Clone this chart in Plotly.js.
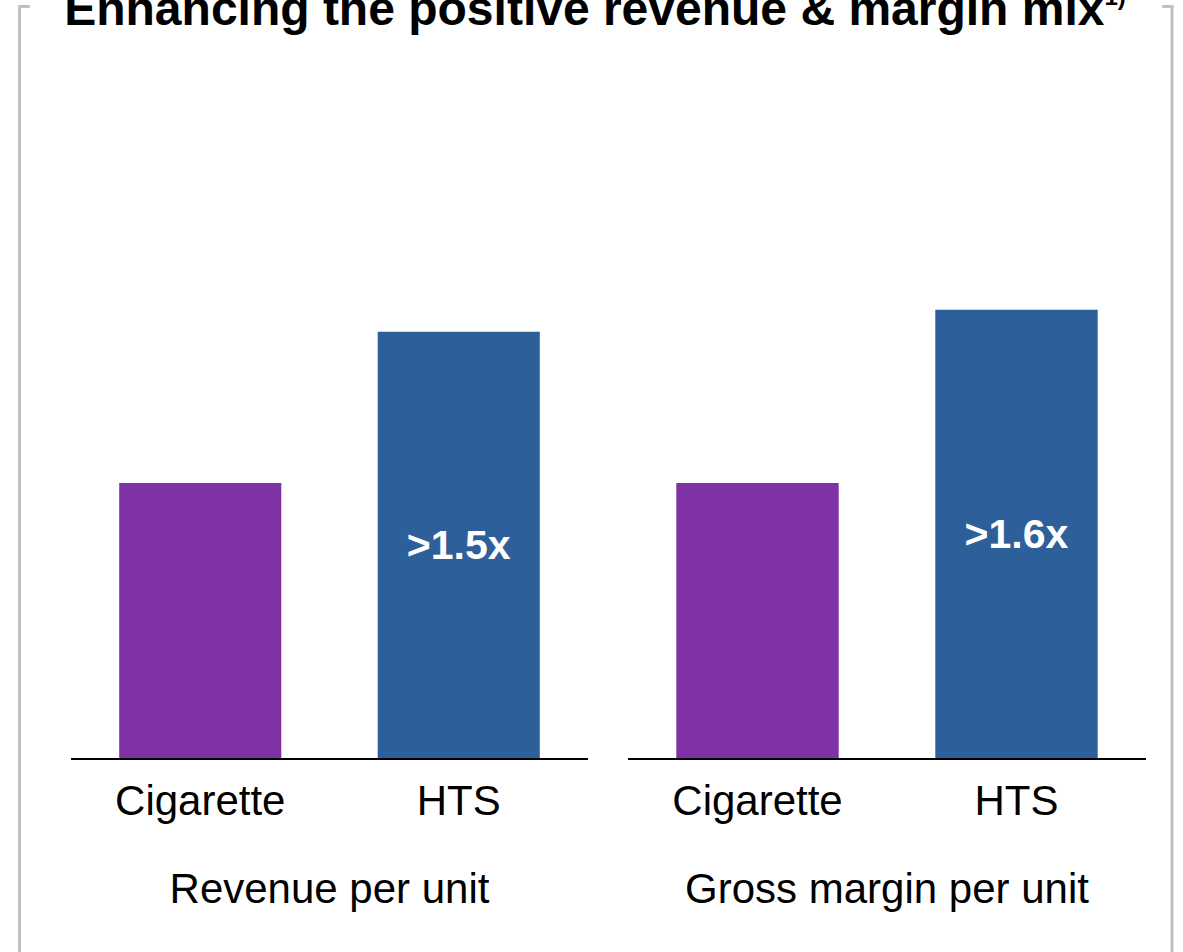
<!DOCTYPE html>
<html>
<head>
<meta charset="utf-8">
<script src="https://cdn.plot.ly/plotly-3.0.1.min.js"></script>
<style>
  html, body { margin: 0; padding: 0; background: #ffffff; }
  #chart { width: 1183px; height: 952px; }
</style>
</head>
<body>
<div id="chart"></div>
<script>
// ---- Data ----
const categories = ['Cigarette', 'HTS'];
const revenueValues = [100, 155];
const marginValues = [100, 163];
const revenueLabels = ['', '>1.5x'];
const marginLabels = ['', '>1.6x'];
const panelTitles = ['Revenue per unit', 'Gross margin per unit'];
const chartTitle = 'Enhancing the positive revenue & margin mix';
const footnoteMark = '1)';

// ---- Styles ----
const barColors = ['#7f32a6', '#2d5f9b'];
const FONT = 'Liberation Sans, Arial, Helvetica, sans-serif';
const W = 1183, H = 952, B = 194;
const plotH = H - B;
const px = v => v / W;            // pixel x -> paper x
const py = v => 1 - v / plotH;    // pixel y -> paper y

const traces = [
  {
    type: 'bar', x: categories, y: revenueValues, xaxis: 'x', yaxis: 'y',
    marker: { color: barColors }, width: 0.627,
    text: revenueLabels, textposition: 'inside', insidetextanchor: 'middle',
    textfont: { family: FONT, size: 41, color: '#ffffff', weight: 'bold' },
    hoverinfo: 'skip', showlegend: false, cliponaxis: false
  },
  {
    type: 'bar', x: categories, y: marginValues, xaxis: 'x2', yaxis: 'y2',
    marker: { color: barColors }, width: 0.627,
    text: marginLabels, textposition: 'inside', insidetextanchor: 'middle',
    textfont: { family: FONT, size: 41, color: '#ffffff', weight: 'bold' },
    hoverinfo: 'skip', showlegend: false, cliponaxis: false
  }
];

const xCommon = {
  type: 'category', showline: true, linecolor: '#000000', linewidth: 2,
  showgrid: false, zeroline: false, ticks: '', ticklabelstandoff: 5,
  tickfont: { family: FONT, size: 42, color: '#000000' },
  fixedrange: true
};
const yCommon = {
  range: [0, 275.6], domain: [0, 1], showgrid: false, zeroline: false,
  showticklabels: false, ticks: '', showline: false, fixedrange: true
};

const layout = {
  width: W, height: H,
  margin: { l: 0, r: 0, t: 0, b: B, pad: 0 },
  paper_bgcolor: '#ffffff', plot_bgcolor: '#ffffff',
  bargap: 0.373,
  title: {
    text: chartTitle + '<sup><span style="font-size:24px">' + footnoteMark + '</span></sup>',
    font: { family: FONT, size: 48, color: '#000000', weight: 'bold' },
    xref: 'container', yref: 'container',
    x: 595 / W, xanchor: 'center',
    y: 1 - 25 / H, yanchor: 'bottom', pad: { t: 0, b: 0, l: 0, r: 0 }
  },
  xaxis: Object.assign({}, xCommon, {
    domain: [px(71), px(588)], anchor: 'y',
    title: { text: panelTitles[0], font: { family: FONT, size: 42, color: '#000000' }, standoff: 50 }
  }),
  xaxis2: Object.assign({}, xCommon, {
    domain: [px(628), px(1146)], anchor: 'y2',
    title: { text: panelTitles[1], font: { family: FONT, size: 42, color: '#000000' }, standoff: 50 }
  }),
  yaxis: Object.assign({}, yCommon, { anchor: 'x' }),
  yaxis2: Object.assign({}, yCommon, { anchor: 'x2' }),
  shapes: [
    // frame around the panel (light gray, open at title)
    { type: 'line', xref: 'paper', yref: 'paper', x0: px(19.5), x1: px(19.5), y0: py(6), y1: py(960), line: { color: '#c0c0c0', width: 3 } },
    { type: 'line', xref: 'paper', yref: 'paper', x0: px(18), x1: px(30), y0: py(6.5), y1: py(6.5), line: { color: '#c0c0c0', width: 3 } },
    { type: 'line', xref: 'paper', yref: 'paper', x0: px(1172), x1: px(1172), y0: py(6), y1: py(960), line: { color: '#c0c0c0', width: 3 } },
    { type: 'line', xref: 'paper', yref: 'paper', x0: px(1162), x1: px(1173.5), y0: py(6.5), y1: py(6.5), line: { color: '#c0c0c0', width: 3 } }
  ]
};

Plotly.newPlot('chart', traces, layout, { displayModeBar: false, staticPlot: true });
</script>
</body>
</html>
